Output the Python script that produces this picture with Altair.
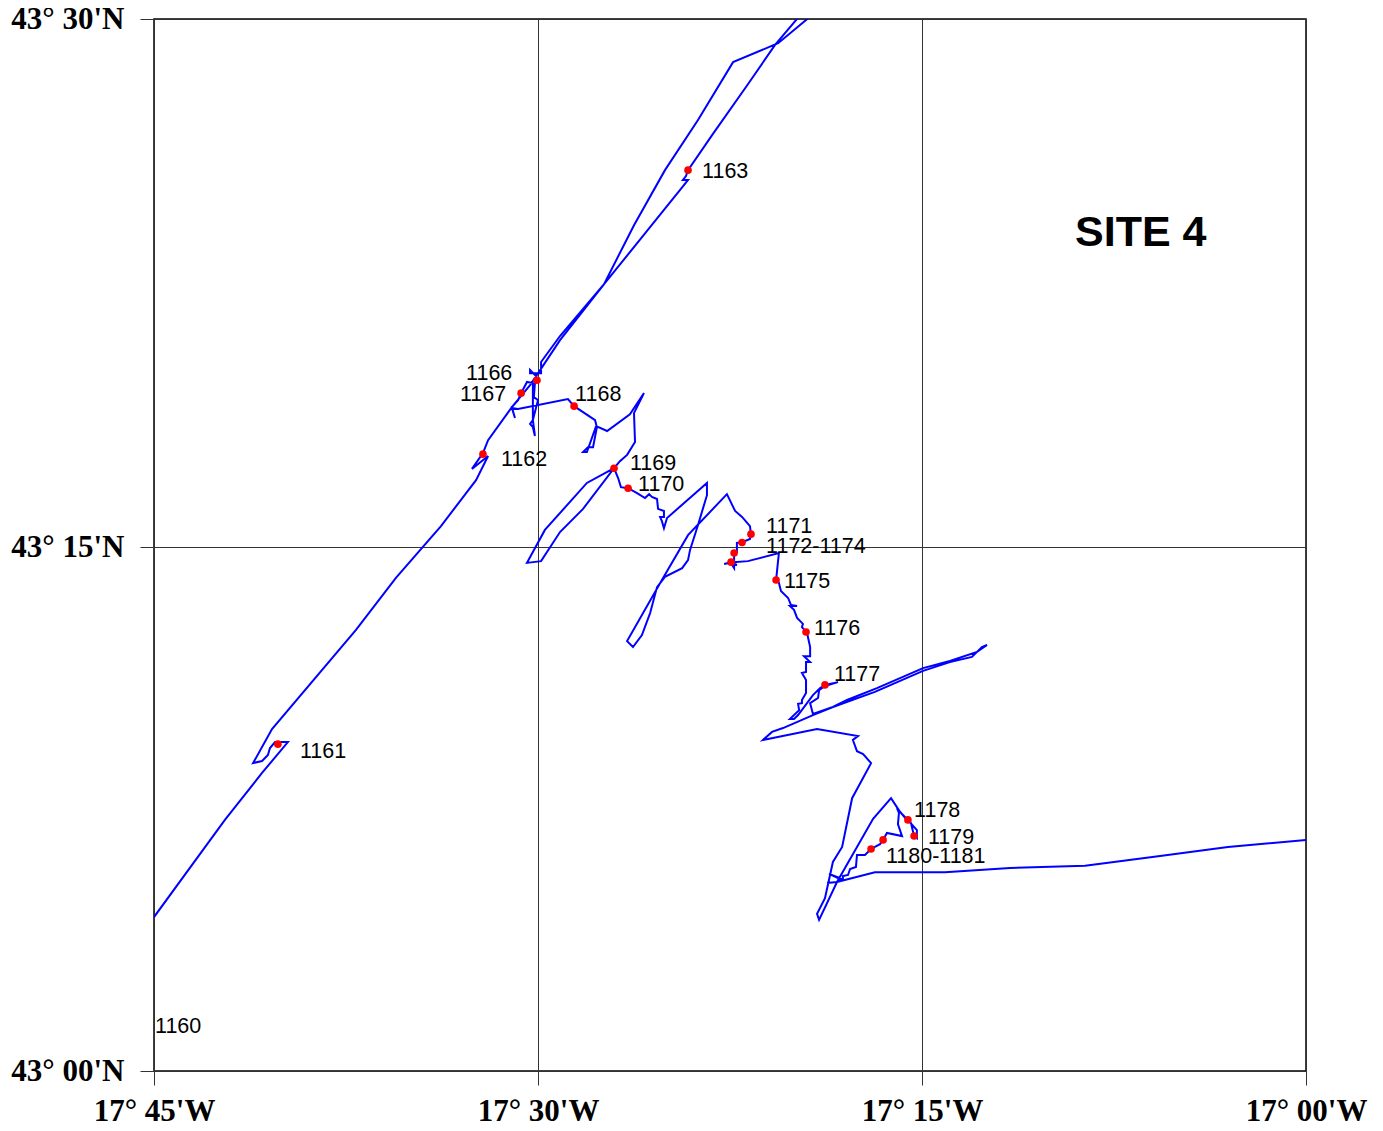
import altair as alt
import pandas as pd

# Track, in arc-minutes: west of 17 deg W, north of 43 deg N
track_lon = [45.00,42.23,40.78,39.77,40.27,40.47,40.55,40.78,41.13,40.39,37.11,35.55,33.79,32.42,31.95,32.58,32.15,31.95,31.02,30.31,30.04,29.14,27.42,26.25,25.04,23.75,22.38,20.62,18.59,
19.26,20.74,21.80,23.20,24.14,24.22,24.34,24.14,24.30,25.78,27.42,29.14,29.88,29.88,30.31,30.31,30.00,30.12,30.16,30.00,30.12,30.20,30.31,30.20,30.12,30.20,30.20,30.43,30.66,30.78,31.02,30.90,31.02,30.78,
28.83,28.59,27.77,27.70,27.85,28.05,28.24,28.09,27.73,27.30,26.41,25.86,26.25,26.21,26.52,26.80,27.03,28.09,29.73,30.43,29.88,29.14,28.24,27.03,26.87,26.76,26.48,26.13,25.82,25.66,25.55,25.35,25.31,25.08,25.08,25.23,25.16,25.08,24.96,
23.40,23.40,23.75,24.06,24.14,24.37,25.04,25.35,25.62,25.94,26.29,26.52,25.16,24.14,22.62,22.30,22.03,21.72,21.68,21.72,22.03,22.23,22.23,22.34,22.34,22.42,22.23,22.46,22.73,22.38,21.80,20.59,20.70,20.59,20.51,20.23,20.12,19.88,20.16,20.00,19.88,19.65,19.69,19.49,19.37,19.37,19.61,19.37,19.53,19.53,19.69,19.53,19.53,19.69,19.69,19.84,19.80,20.16,20.00,19.84,19.26,18.98,18.79,18.28,18.79,19.02,19.06,19.37,19.26,18.48,17.93,16.76,14.96,13.91,12.85,12.46,12.66,13.05,13.91,14.96,16.84,18.48,19.26,20.43,20.86,21.21,19.10,17.50,17.70,17.54,17.30,16.99,17.73,18.12,18.48,18.79,19.10,19.02,18.32,16.91,16.21,15.86,15.59,15.20,15.20,15.31,15.43,15.59,15.98,15.90,15.94,15.78,16.37,16.52,16.64,16.84,16.99,17.23,17.54,17.58,17.81,17.89,18.09,18.09,18.63,18.20,18.32,18.71,18.32,16.84,14.10,11.56,8.63,5.70,3.05,0.00]
track_lat = [4.39,7.16,8.50,9.38,9.38,9.21,9.01,8.84,8.78,9.75,12.58,14.06,15.54,16.85,17.54,17.17,17.62,17.99,18.93,19.56,19.85,20.84,22.44,24.12,25.69,27.12,28.77,29.31,30.54,
30.54,29.26,28.14,26.69,25.69,25.52,25.41,25.41,25.26,23.92,22.44,20.96,20.22,19.90,19.90,19.99,19.76,19.62,19.22,19.13,18.79,18.56,18.45,18.36,18.11,18.56,19.62,19.65,19.33,19.13,18.93,18.62,18.91,18.88,
19.16,18.96,18.56,18.36,17.79,17.79,17.65,17.65,18.39,18.25,18.73,19.33,18.76,17.94,17.57,17.39,17.19,16.77,15.43,14.49,14.54,15.37,16.03,17.19,16.91,16.65,16.62,16.48,16.34,16.45,16.37,16.31,16.03,15.97,15.80,15.80,15.68,15.48,15.77,
16.77,16.42,15.57,14.86,14.57,14.34,14.09,13.80,13.06,12.43,12.09,12.26,14.00,15.28,16.45,15.97,15.80,15.54,15.31,15.17,15.08,15.06,14.80,14.77,14.34,14.43,14.43,14.51,14.46,14.51,14.54,14.77,14.00,13.92,13.69,13.49,13.29,13.26,13.26,13.15,12.92,12.75,12.66,12.49,12.09,11.83,11.83,11.66,11.66,11.38,11.35,11.15,10.78,10.58,10.49,10.47,10.29,10.04,10.04,10.15,10.72,10.92,11.01,11.09,10.98,10.86,10.64,10.49,10.18,10.38,10.58,10.92,11.49,11.69,11.95,12.15,12.09,11.81,11.66,11.41,10.81,10.38,10.15,9.78,9.67,9.44,9.75,9.55,9.44,9.12,9.04,8.78,7.78,6.39,5.96,4.93,4.48,4.31,5.39,7.19,7.78,7.39,7.19,6.87,6.64,6.70,7.07,7.16,7.50,7.36,7.04,6.70,6.79,6.59,6.47,6.39,6.33,6.16,6.16,5.82,5.76,5.59,5.56,5.47,5.62,5.47,5.39,5.36,5.39,5.67,5.67,5.79,5.85,6.13,6.39,6.59]

station_lon = [40.16,32.15,24.14,30.04,30.66,28.59,27.03,26.48,21.68,22.03,22.34,22.46,20.70,19.53,18.79,15.55,15.31,16.52,16.99]
station_lat = [9.32,17.59,25.69,19.70,19.33,18.96,17.19,16.62,15.31,15.07,14.77,14.51,14.00,12.52,11.01,7.16,6.70,6.59,6.33]

label_text = ["1160","1161","1162","1163","1166","1167","1168","1169","1170","1171","1172-1174","1175","1176","1177","1178","1179","1180-1181"]
label_lon = [44.96,39.30,31.45,23.59,32.81,33.05,28.55,26.41,26.09,21.09,21.09,20.39,19.22,18.44,15.31,14.77,16.41]
label_lat = [1.25,9.09,17.42,25.63,19.87,19.27,19.27,17.31,16.71,15.51,14.94,13.94,12.60,11.29,7.41,6.64,6.10]

lon_ticks = [45, 30, 15, 0]
lon_tick_labels = ["17° 45'W", "17° 30'W", "17° 15'W", "17° 00'W"]
lat_ticks = [0, 14.94, 30]
lat_tick_labels = ["43° 00'N", "43° 15'N", "43° 30'N"]

site_title = ["SITE 4"]
site_lon = [9.02]
site_lat = [23.89]

track = pd.DataFrame({"lon": track_lon, "lat": track_lat, "i": range(len(track_lon))})
stations = pd.DataFrame({"lon": station_lon, "lat": station_lat})
labels = pd.DataFrame({"lon": label_lon, "lat": label_lat, "t": label_text})
site = pd.DataFrame({"lon": site_lon, "lat": site_lat, "t": site_title})

x_expr = " : ".join(f"datum.value == {v} ? \"{t}\"" for v, t in zip(lon_ticks[:-1], lon_tick_labels[:-1])) + f" : \"{lon_tick_labels[-1]}\""
y_expr = " : ".join(f"datum.value == {v} ? \"{t}\"" for v, t in zip(lat_ticks[:-1], lat_tick_labels[:-1])) + f" : \"{lat_tick_labels[-1]}\""

x_enc = alt.X("lon:Q", scale=alt.Scale(domain=[45, 0], nice=False, zero=False),
              axis=alt.Axis(values=lon_ticks, labelExpr=x_expr, title=None, grid=True, gridColor="#333333", gridWidth=1,
                            tickSize=14, tickColor="#333333", tickWidth=1, domain=False, labelAngle=0,
                            labelFont="Liberation Serif", labelFontWeight="bold", labelFontSize=31, labelColor="black",
                            labelPadding=11, labelOverlap=False, labelFlush=False))
y_enc = alt.Y("lat:Q", scale=alt.Scale(domain=[0, 30], nice=False, zero=False),
              axis=alt.Axis(values=lat_ticks, labelExpr=y_expr, title=None, grid=True, gridColor="#333333", gridWidth=1,
                            tickSize=14, tickColor="#333333", tickWidth=1, domain=False,
                            labelFont="Liberation Serif", labelFontWeight="bold", labelFontSize=31, labelColor="black",
                            labelPadding=16, labelOverlap=False, labelFlush=False))

line = alt.Chart(track).mark_line(color="#0000ff", strokeWidth=2, clip=True, interpolate="linear").encode(
    x=x_enc, y=y_enc, order="i:Q")
dots = alt.Chart(stations).mark_circle(color="#ff0000", size=58, opacity=1).encode(x="lon:Q", y="lat:Q")
texts = alt.Chart(labels).mark_text(align="left", baseline="middle", font="Liberation Sans", fontSize=21.5, color="black").encode(
    x="lon:Q", y="lat:Q", text="t:N")
title = alt.Chart(site).mark_text(align="left", baseline="middle", font="Liberation Sans", fontWeight="bold", fontSize=43, color="black").encode(
    x="lon:Q", y="lat:Q", text="t:N")

chart = (line + dots + texts + title).properties(
    width=1152, height=1052,
    autosize=alt.AutoSizeParams(type="none"),
    padding={"left": 146, "top": 11, "right": 67, "bottom": 52},
    background="white",
).configure_view(stroke="black", strokeWidth=1.5)

chart.save("out.html", embed_options={"renderer": "svg", "actions": False})
